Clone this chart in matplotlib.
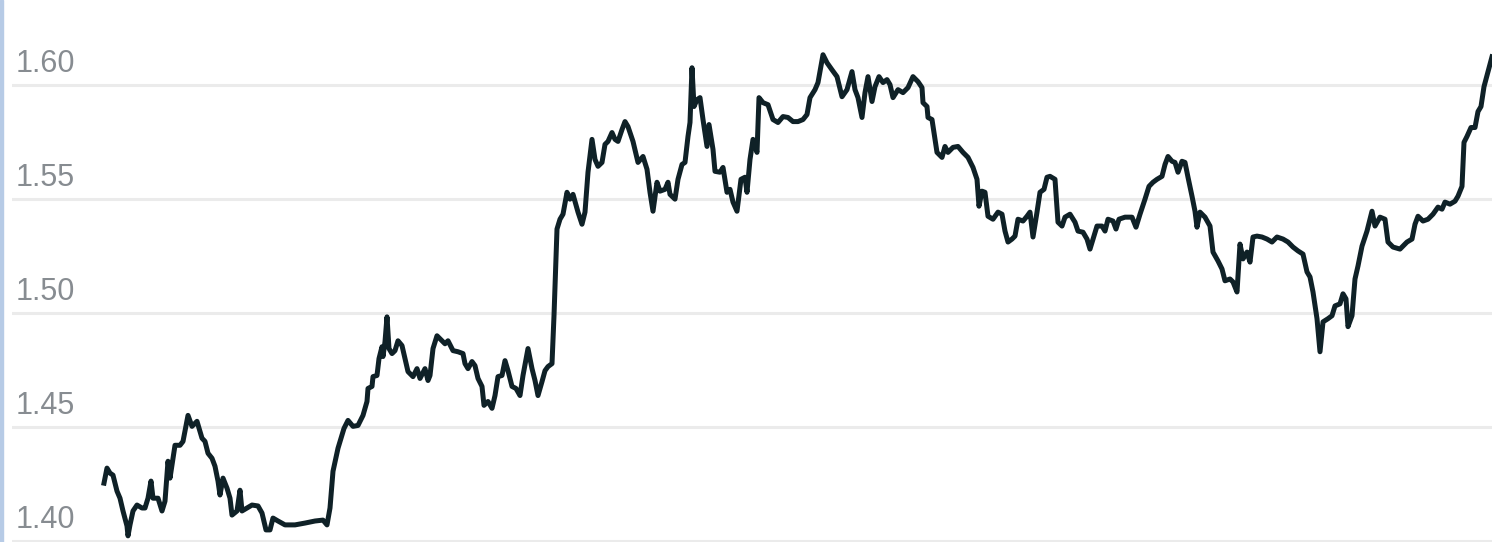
import matplotlib.pyplot as plt
from matplotlib.patches import Rectangle

# exchange rate trace (day index, rate)
days = [
    0, 3, 6, 9, 13, 16, 19, 23, 24, 26,
    29, 33, 38, 41, 44, 47, 49, 54, 58, 61,
    64, 66, 71, 76, 79, 84, 88, 93, 98, 101,
    104, 108, 111, 114, 116, 119, 123, 126, 128, 133,
    136, 138, 143, 148, 154, 158, 162, 166, 169, 174,
    181, 191, 201, 211, 219, 223, 226, 229, 234, 240,
    244, 249, 254, 259, 263, 264, 268, 269, 273, 275,
    278, 279, 281, 283, 285, 288, 291, 294, 298, 301,
    304, 309, 313, 316, 321, 324, 326, 329, 333, 336,
    341, 344, 349, 354, 359, 361, 364, 368, 371, 374,
    378, 380, 384, 388, 391, 394, 398, 401, 404, 408,
    412, 416, 419, 424, 428, 431, 434, 438, 441, 444,
    448, 450, 453, 456, 459, 463, 466, 469, 474, 478,
    481, 484, 488, 491, 494, 498, 501, 504, 508, 511,
    514, 518, 521, 524, 529, 534, 539, 543, 546, 549,
    553, 556, 561, 564, 566, 571, 574, 578, 581, 584,
    586, 588, 590, 593, 596, 599, 603, 605, 609, 611,
    616, 619, 623, 626, 629, 633, 637, 641, 643, 646,
    649, 653, 655, 659, 664, 669, 674, 679, 684, 689,
    694, 699, 703, 706, 711, 714, 719, 723, 728, 733,
    738, 743, 748, 751, 754, 758, 761, 764, 768, 771,
    775, 779, 783, 786, 789, 794, 799, 804, 809, 814,
    818, 819, 823, 824, 828, 830, 833, 838, 841, 844,
    849, 854, 859, 864, 869, 873, 875, 878, 881, 884,
    889, 894, 898, 901, 904, 908, 911, 914, 919, 923,
    926, 929, 933, 936, 940, 943, 946, 951, 954, 958,
    961, 966, 971, 974, 979, 983, 986, 989, 993, 998,
    1001, 1004, 1009, 1012, 1015, 1021, 1028, 1032, 1036, 1041,
    1045, 1049, 1053, 1058, 1061, 1064, 1068, 1071, 1074, 1078,
    1081, 1084, 1088, 1091, 1093, 1096, 1101, 1106, 1109, 1114,
    1118, 1121, 1126, 1129, 1133, 1136, 1139, 1143, 1146, 1149,
    1153, 1158, 1163, 1168, 1173, 1179, 1184, 1189, 1194, 1199,
    1203, 1206, 1209, 1213, 1216, 1219, 1224, 1228, 1231, 1236,
    1239, 1242, 1244, 1248, 1251, 1254, 1258, 1263, 1268, 1271,
    1276, 1281, 1284, 1289, 1296, 1303, 1308, 1311, 1314, 1319,
    1324, 1329, 1334, 1338, 1341, 1346, 1351, 1354, 1358, 1360,
    1363, 1367, 1371, 1374, 1377, 1380, 1384, 1388,
]
rate = [
    1.4253, 1.4319, 1.4297, 1.4288, 1.4218, 1.4187, 1.4131, 1.4065, 1.4022, 1.4070,
    1.4131, 1.4157, 1.4144, 1.4144, 1.4187, 1.4262, 1.4187, 1.4187, 1.4131, 1.4174,
    1.4349, 1.4275, 1.4419, 1.4419, 1.4436, 1.4550, 1.4502, 1.4524, 1.4450, 1.4436,
    1.4384, 1.4362, 1.4327, 1.4262, 1.4201, 1.4275, 1.4231, 1.4187, 1.4113, 1.4131,
    1.4222, 1.4131, 1.4144, 1.4157, 1.4153, 1.4122, 1.4048, 1.4048, 1.4100, 1.4087,
    1.4070, 1.4070, 1.4078, 1.4087, 1.4091, 1.4070, 1.4144, 1.4305, 1.4406, 1.4493,
    1.4528, 1.4502, 1.4506, 1.4550, 1.4611, 1.4668, 1.4677, 1.4720, 1.4725, 1.4799,
    1.4851, 1.4808, 1.4873, 1.4982, 1.4843, 1.4821, 1.4834, 1.4877, 1.4856, 1.4799,
    1.4742, 1.4720, 1.4755, 1.4712, 1.4755, 1.4703, 1.4725, 1.4843, 1.4899, 1.4886,
    1.4864, 1.4877, 1.4834, 1.4829, 1.4821, 1.4777, 1.4755, 1.4786, 1.4768, 1.4712,
    1.4677, 1.4594, 1.4611, 1.4581, 1.4637, 1.4720, 1.4725, 1.4790, 1.4746, 1.4677,
    1.4668, 1.4637, 1.4725, 1.4843, 1.4755, 1.4703, 1.4637, 1.4698, 1.4746, 1.4764,
    1.4777, 1.4987, 1.5367, 1.5410, 1.5432, 1.5528, 1.5498, 1.5519, 1.5441, 1.5388,
    1.5441, 1.5616, 1.5760, 1.5672, 1.5642, 1.5659, 1.5738, 1.5751, 1.5790, 1.5760,
    1.5751, 1.5803, 1.5838, 1.5816, 1.5751, 1.5659, 1.5685, 1.5629, 1.5528, 1.5445,
    1.5572, 1.5533, 1.5541, 1.5572, 1.5519, 1.5498, 1.5585, 1.5650, 1.5659, 1.5773,
    1.5834, 1.6074, 1.5904, 1.5934, 1.5943, 1.5847, 1.5729, 1.5825, 1.5716, 1.5620,
    1.5616, 1.5637, 1.5528, 1.5541, 1.5485, 1.5445, 1.5585, 1.5594, 1.5528, 1.5672,
    1.5760, 1.5703, 1.5943, 1.5921, 1.5912, 1.5847, 1.5834, 1.5860, 1.5856, 1.5838,
    1.5838, 1.5847, 1.5869, 1.5943, 1.5978, 1.6009, 1.6131, 1.6096, 1.6065, 1.6035,
    1.5947, 1.5978, 1.6057, 1.5978, 1.5943, 1.5856, 1.5965, 1.6035, 1.5926, 1.5991,
    1.6035, 1.6009, 1.6022, 1.6000, 1.5943, 1.5978, 1.5965, 1.5987, 1.6035, 1.6013,
    1.5987, 1.5921, 1.5904, 1.5856, 1.5847, 1.5790, 1.5703, 1.5681, 1.5729, 1.5703,
    1.5725, 1.5729, 1.5703, 1.5681, 1.5637, 1.5585, 1.5467, 1.5533, 1.5528, 1.5423,
    1.5410, 1.5441, 1.5432, 1.5358, 1.5310, 1.5323, 1.5336, 1.5410, 1.5402, 1.5423,
    1.5441, 1.5332, 1.5441, 1.5528, 1.5541, 1.5594, 1.5598, 1.5585, 1.5397, 1.5380,
    1.5419, 1.5432, 1.5397, 1.5358, 1.5353, 1.5323, 1.5279, 1.5323, 1.5380, 1.5380,
    1.5358, 1.5410, 1.5402, 1.5367, 1.5410, 1.5419, 1.5419, 1.5375, 1.5432, 1.5498,
    1.5554, 1.5572, 1.5585, 1.5598, 1.5650, 1.5685, 1.5664, 1.5659, 1.5616, 1.5664,
    1.5659, 1.5594, 1.5511, 1.5445, 1.5375, 1.5441, 1.5419, 1.5380, 1.5266, 1.5227,
    1.5192, 1.5140, 1.5148, 1.5135, 1.5091, 1.5301, 1.5236, 1.5266, 1.5222, 1.5332,
    1.5336, 1.5332, 1.5323, 1.5310, 1.5332, 1.5323, 1.5310, 1.5288, 1.5271, 1.5257,
    1.5179, 1.5157, 1.5091, 1.4974, 1.4829, 1.4960, 1.4974, 1.4987, 1.5030, 1.5039,
    1.5083, 1.5061, 1.4939, 1.4987, 1.5148, 1.5205, 1.5292, 1.5358, 1.5445, 1.5380,
    1.5419, 1.5410, 1.5310, 1.5288, 1.5279, 1.5310, 1.5323, 1.5388, 1.5423, 1.5402,
    1.5410, 1.5432, 1.5463, 1.5454, 1.5485, 1.5476, 1.5489, 1.5511, 1.5554, 1.5747,
    1.5773, 1.5812, 1.5812, 1.5882, 1.5904, 1.5991, 1.6057, 1.6122,
]

yticks = [1.40, 1.45, 1.50, 1.55, 1.60]
ytick_labels = ["1.40", "1.45", "1.50", "1.55", "1.60"]

W, H = 1492, 542
fig = plt.figure(figsize=(W / 100, H / 100), dpi=100)
ax = fig.add_axes([12 / W, 0, 1 - 12 / W, 1])

# thin blue strip along the left edge of the screenshot
fig.patches.append(Rectangle((0, 0), 3 / W, 1, transform=fig.transFigure,
                             color="#b7cbe6", zorder=0))

for t in yticks:
    ax.axhline(t, color="#ebebeb", lw=2.2, zorder=1)

ax.plot(days, rate, color="#0f2127", lw=3.6, solid_joinstyle="round", zorder=3)

# labels sit just above their gridline, inside the plot
for t, lab in zip(yticks, ytick_labels):
    ax.annotate(lab, xy=(0, t), xycoords=("axes fraction", "data"),
                xytext=(4, 13), textcoords="offset pixels",
                ha="left", va="baseline", fontsize=22,
                family="Liberation Sans", color="#878c91")

ax.set_xlim(-92, 1388)
ax.set_ylim(1.3995, 1.6371)
ax.axis("off")

fig.savefig("out.png", dpi=100)
